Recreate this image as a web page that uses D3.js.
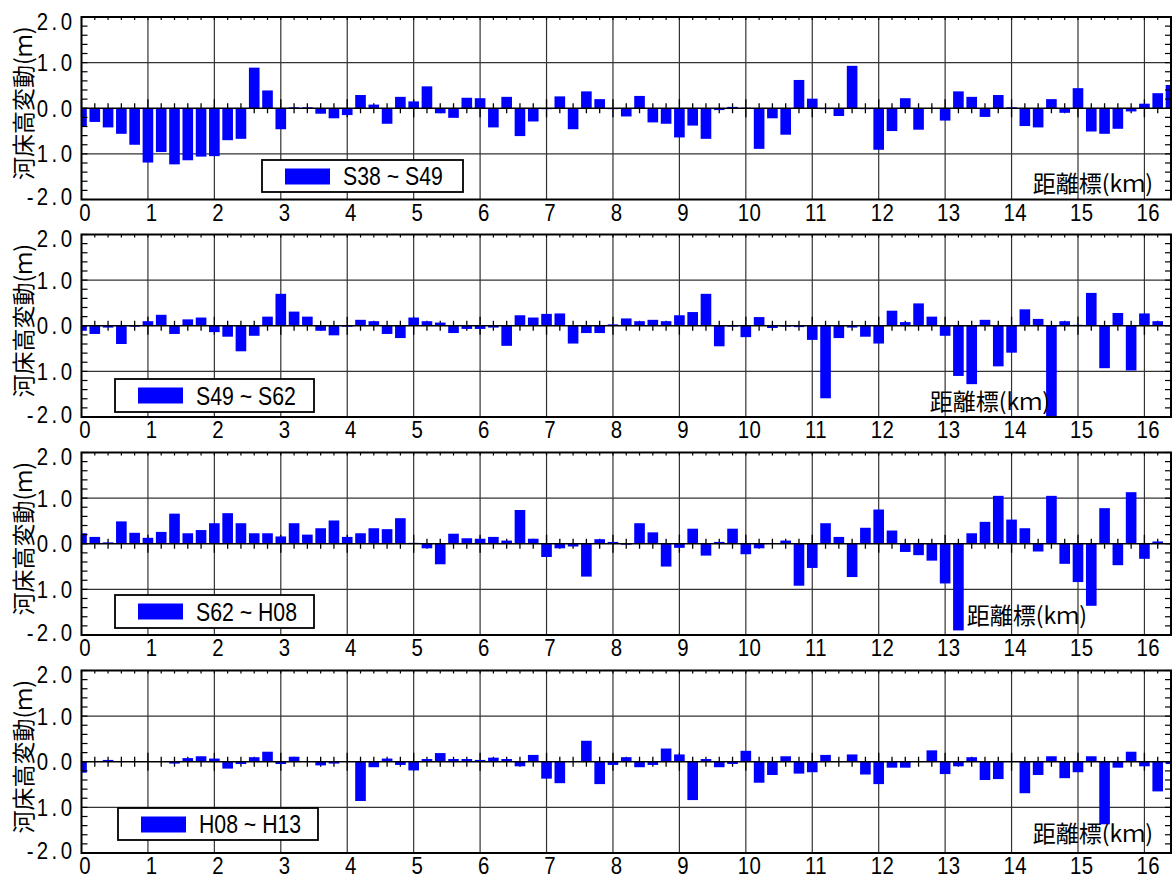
<!DOCTYPE html>
<html>
<head>
<meta charset="utf-8">
<script src="https://cdn.jsdelivr.net/npm/d3@7"></script>
<style>
  html, body { margin: 0; padding: 0; background: #fff; }
  svg { display: block; }
</style>
</head>
<body>
<svg id="chart" width="1175" height="879"></svg>
<script>
// Distance markers along the river (km), one bar per marker
const distanceKm = [
  0.0, 0.2, 0.4, 0.6, 0.8, 1.0, 1.2, 1.4, 1.6, 1.8,
  2.0, 2.2, 2.4, 2.6, 2.8, 3.0, 3.2, 3.4, 3.6, 3.8,
  4.0, 4.2, 4.4, 4.6, 4.8, 5.0, 5.2, 5.4, 5.6, 5.8,
  6.0, 6.2, 6.4, 6.6, 6.8, 7.0, 7.2, 7.4, 7.6, 7.8,
  8.0, 8.2, 8.4, 8.6, 8.8, 9.0, 9.2, 9.4, 9.6, 9.8,
  10.0, 10.2, 10.4, 10.6, 10.8, 11.0, 11.2, 11.4, 11.6, 11.8,
  12.0, 12.2, 12.4, 12.6, 12.8, 13.0, 13.2, 13.4, 13.6, 13.8,
  14.0, 14.2, 14.4, 14.6, 14.8, 15.0, 15.2, 15.4, 15.6, 15.8,
  16.0, 16.2, 16.4
];

// Riverbed elevation change (m) for each period
const changeS38toS49 = [
  -0.39, -0.30, -0.42, -0.56, -0.80, -1.19, -0.96, -1.23, -1.14, -1.06,
  -1.05, -0.70, -0.67, 0.89, 0.39, -0.46, 0.02, 0.02, -0.12, -0.22,
  -0.15, 0.29, 0.08, -0.34, 0.25, 0.15, 0.48, -0.11, -0.21, 0.23,
  0.22, -0.42, 0.25, -0.61, -0.29, -0.02, 0.26, -0.46, 0.37, 0.20,
  -0.02, -0.18, 0.27, -0.31, -0.34, -0.64, -0.38, -0.67, -0.04, 0.03,
  0.01, -0.89, -0.22, -0.58, 0.62, 0.21, -0.02, -0.17, 0.93, -0.02,
  -0.91, -0.50, 0.22, -0.47, -0.01, -0.27, 0.37, 0.25, -0.19, 0.29,
  0.02, -0.39, -0.42, 0.20, -0.10, 0.44, -0.51, -0.56, -0.45, -0.07,
  0.10, 0.33, 0.51
];
const changeS49toS62 = [
  -0.11, -0.18, -0.04, -0.40, -0.02, 0.10, 0.24, -0.18, 0.14, 0.18,
  -0.14, -0.24, -0.56, -0.22, 0.20, 0.70, 0.31, 0.20, -0.11, -0.21,
  -0.02, 0.13, 0.10, -0.18, -0.27, 0.18, 0.10, 0.07, -0.16, -0.07,
  -0.07, -0.04, -0.44, 0.23, 0.18, 0.26, 0.27, -0.39, -0.16, -0.16,
  0.03, 0.16, 0.10, 0.13, 0.10, 0.23, 0.30, 0.70, -0.45, -0.02,
  -0.25, 0.19, -0.05, -0.02, -0.03, -0.31, -1.59, -0.27, -0.04, -0.24,
  -0.39, 0.33, 0.08, 0.49, 0.20, -0.22, -1.10, -1.28, 0.13, -0.89,
  -0.59, 0.36, 0.15, -2.10, 0.10, 0.02, 0.72, -0.93, 0.28, -0.98,
  0.27, 0.10, 0.00
];
const changeS62toH08 = [
  0.23, 0.15, 0.03, 0.49, 0.24, 0.13, 0.26, 0.66, 0.23, 0.30,
  0.45, 0.67, 0.45, 0.23, 0.23, 0.16, 0.45, 0.20, 0.34, 0.51,
  0.15, 0.23, 0.34, 0.32, 0.56, 0.02, -0.10, -0.45, 0.22, 0.12,
  0.11, 0.15, 0.07, 0.74, 0.11, -0.29, -0.10, -0.06, -0.72, 0.10,
  0.04, -0.02, 0.45, 0.25, -0.50, -0.09, 0.33, -0.26, 0.04, 0.33,
  -0.23, -0.10, 0.00, 0.07, -0.92, -0.53, 0.45, 0.15, -0.73, 0.35,
  0.75, 0.29, -0.18, -0.25, -0.37, -0.87, -1.90, 0.23, 0.48, 1.05,
  0.53, 0.34, -0.17, 1.05, -0.44, -0.84, -1.36, 0.78, -0.47, 1.13,
  -0.33, 0.05, 0.00
];
const changeH08toH13 = [
  -0.24, 0.00, 0.04, 0.01, 0.01, 0.00, 0.01, -0.04, 0.08, 0.12,
  0.07, -0.15, -0.05, 0.10, 0.22, -0.05, 0.11, 0.01, -0.08, -0.04,
  0.01, -0.86, -0.12, 0.07, -0.07, -0.19, 0.06, 0.19, 0.06, 0.06,
  0.04, 0.09, 0.06, -0.10, 0.15, -0.37, -0.47, 0.01, 0.46, -0.49,
  -0.07, 0.10, -0.12, -0.07, 0.29, 0.16, -0.84, 0.06, -0.12, -0.05,
  0.24, -0.46, -0.29, 0.12, -0.26, -0.23, 0.15, 0.01, 0.16, -0.28,
  -0.49, -0.13, -0.13, 0.01, 0.25, -0.27, -0.10, 0.10, -0.40, -0.38,
  0.00, -0.69, -0.29, 0.12, -0.36, -0.23, 0.12, -1.37, -0.13, 0.22,
  -0.10, -0.65, -0.05
];

const periodNames = ["S38 ~ S49", "S49 ~ S62", "S62 ~ H08", "H08 ~ H13"];
const periodValues = [changeS38toS49, changeS49toS62, changeS62toH08, changeH08toH13];

// Axis ticks and labels
const xTickValues = [0, 1, 2, 3, 4, 5, 6, 7, 8, 9, 10, 11, 12, 13, 14, 15, 16];
const xTickLabels = ["0", "1", "2", "3", "4", "5", "6", "7", "8", "9", "10", "11", "12", "13", "14", "15", "16"];
const yTickValues = [-2, -1, 0, 1, 2];
const yTickLabels = ["-2.0", "-1.0", "0.0", "1.0", "2.0"];
const yTitle = "河床高変動(ｍ)";
const xTitle = "距離標(kｍ)";

// ---- layout ----
const plotLeft = 81.5, plotRight = 1171, plotHeight = 182.5;
const panelTops = [17, 234.5, 452.5, 670.5];
const legendBoxes = [
  { x: 262, y: 160, w: 201, h: 32 },
  { x: 115, y: 379, w: 199, h: 33 },
  { x: 115, y: 595, w: 199, h: 33 },
  { x: 118, y: 808, w: 200, h: 32 }
];
const xTitlePos = [
  { x: 1153, y: 192 },
  { x: 1050, y: 410 },
  { x: 1087, y: 624 },
  { x: 1153, y: 842 }
];

const numFont = "'Liberation Sans', Arial, sans-serif";
const cjkFont = "'Noto Sans CJK JP', 'Noto Sans CJK SC', sans-serif";
const barBlue = "#0000ff";
const gridColor = "#333";
const narrow = 0.85;   // horizontal squeeze for the numeric labels

const svg = d3.select("#chart");
const x = d3.scaleLinear().domain([0, 16.4]).range([plotLeft, plotRight]);
const barWidth = x(0.16) - x(0);
const minorKm = d3.range(0, 83).map(i => i * 0.2);
const minorM = d3.range(-10, 11).map(i => i * 0.2);

function numText(sel, str, xPos, yPos, anchor, size, spacing) {
  // letter-spacing also trails the last glyph, so pull end/middle text back
  const adj = anchor === "end" ? spacing : (anchor === "middle" ? spacing / 2 : 0);
  return sel.append("text")
    .attr("transform", `translate(${xPos},${yPos}) scale(${narrow},1)`)
    .attr("x", adj).attr("y", 0)
    .attr("text-anchor", anchor)
    .attr("font-family", numFont)
    .attr("font-size", size)
    .attr("letter-spacing", spacing)
    .attr("fill", "#000")
    .text(str);
}

periodValues.forEach((values, p) => {
  const top = panelTops[p];
  const bottom = top + plotHeight;
  const y = d3.scaleLinear().domain([-2, 2]).range([bottom, top]);
  const g = svg.append("g");

  const clipId = "clip" + p;
  svg.append("clipPath").attr("id", clipId)
    .append("rect")
    .attr("x", plotLeft).attr("y", top)
    .attr("width", plotRight - plotLeft).attr("height", plotHeight);

  // grid
  g.append("g").selectAll("line").data(xTickValues.slice(1)).join("line")
    .attr("x1", d => x(d)).attr("x2", d => x(d))
    .attr("y1", top).attr("y2", bottom)
    .attr("stroke", gridColor).attr("stroke-width", 1.2);
  g.append("g").selectAll("line").data([-1, 1]).join("line")
    .attr("x1", plotLeft).attr("x2", plotRight)
    .attr("y1", d => y(d)).attr("y2", d => y(d))
    .attr("stroke", gridColor).attr("stroke-width", 1.2);

  // ticks along the zero line
  g.append("g").selectAll("line").data(minorKm).join("line")
    .attr("x1", d => x(d)).attr("x2", d => x(d))
    .attr("y1", d => y(0) - (Math.abs(d - Math.round(d)) < 1e-6 ? 9 : 5))
    .attr("y2", d => y(0) + (Math.abs(d - Math.round(d)) < 1e-6 ? 9 : 5))
    .attr("stroke", "#000").attr("stroke-width", 1.3);

  // bars
  g.append("g").attr("clip-path", `url(#${clipId})`)
    .selectAll("rect").data(values).join("rect")
    .attr("x", (d, i) => x(distanceKm[i]) - barWidth / 2)
    .attr("width", barWidth)
    .attr("y", d => y(Math.max(0, d)))
    .attr("height", d => Math.abs(y(d) - y(0)))
    .attr("fill", barBlue);

  // zero line
  g.append("line")
    .attr("x1", plotLeft).attr("x2", plotRight)
    .attr("y1", y(0)).attr("y2", y(0))
    .attr("stroke", "#000").attr("stroke-width", 1.6);

  // frame ticks: top edge, left and right edges
  g.append("g").selectAll("line").data(minorKm).join("line")
    .attr("x1", d => x(d)).attr("x2", d => x(d))
    .attr("y1", top).attr("y2", top + 3)
    .attr("stroke", "#000").attr("stroke-width", 1.2);
  g.append("g").selectAll("line").data(minorM).join("line")
    .attr("x1", plotLeft).attr("x2", plotLeft + 6)
    .attr("y1", d => y(d)).attr("y2", d => y(d))
    .attr("stroke", "#000").attr("stroke-width", 1.2);
  g.append("g").selectAll("line").data(minorM).join("line")
    .attr("x1", plotRight - 6).attr("x2", plotRight)
    .attr("y1", d => y(d)).attr("y2", d => y(d))
    .attr("stroke", "#000").attr("stroke-width", 1.2);

  // frame
  g.append("rect")
    .attr("x", plotLeft).attr("y", top)
    .attr("width", plotRight - plotLeft).attr("height", plotHeight)
    .attr("fill", "none").attr("stroke", "#000").attr("stroke-width", 2);

  // legend
  const lb = legendBoxes[p];
  g.append("rect")
    .attr("x", lb.x).attr("y", lb.y).attr("width", lb.w).attr("height", lb.h)
    .attr("fill", "#fff").attr("stroke", "#000").attr("stroke-width", 1.8);
  g.append("rect")
    .attr("x", lb.x + 23).attr("y", lb.y + 8.5).attr("width", 45).attr("height", 16)
    .attr("fill", barBlue);
  numText(g, periodNames[p], lb.x + 81, lb.y + lb.h / 2 + 9, "start", 25, 0);

  // distance title inside the plot
  g.append("text")
    .attr("x", xTitlePos[p].x).attr("y", xTitlePos[p].y)
    .attr("text-anchor", "end")
    .attr("font-family", cjkFont).attr("font-size", 23)
    .attr("fill", "#000")
    .text(xTitle);

  // x tick labels
  xTickValues.forEach((v, i) => {
    numText(g, xTickLabels[i], x(v) + 3.5, bottom + 21, "middle", 24, 0.5);
  });

  // y tick labels
  yTickValues.forEach((v, i) => {
    const shift = v === 2 ? 4 : (v === -2 ? -3 : 0);
    numText(g, yTickLabels[i], 72, y(v) + 8.5 + shift, "end", 24, 4);
  });

  // y title on a white backing
  const cy = (top + bottom) / 2 - 5;
  g.append("rect")
    .attr("x", 12).attr("y", cy - 84).attr("width", 24).attr("height", 168)
    .attr("fill", "#fff");
  g.append("text")
    .attr("transform", `translate(32,${cy}) rotate(-90)`)
    .attr("text-anchor", "middle")
    .attr("font-family", cjkFont).attr("font-size", 23)
    .attr("fill", "#000")
    .text(yTitle);
});
</script>
</body>
</html>
